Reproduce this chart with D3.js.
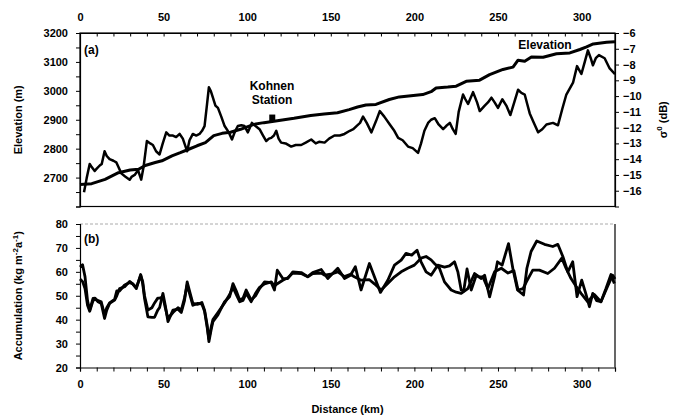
<!DOCTYPE html>
<html>
<head>
<meta charset="utf-8">
<script src="https://cdn.jsdelivr.net/npm/d3@7"></script>
<style>
  body { margin: 0; background: #fff; }
  svg text { font-family: "Liberation Sans", Arial, sans-serif; font-weight: bold; fill: #000; }
</style>
</head>
<body>
<div id="chart"></div>
<script>
// Elevation profile (km, m)
var elevation = [
  [0,2676],[7,2679],[15,2694],[23,2717],[30,2726],[35,2729],[39,2742],[45,2752],[49,2758],[55,2775],
  [60,2786],[65,2798],[70,2810],[75,2821],[80,2845],[85,2853],[90,2857],[96,2867],[104,2884],[110,2890],
  [115,2894],[122,2900],[128,2905],[138,2915],[146,2920],[154,2924],[161,2935],[166,2944],[171,2951],[177,2953],
  [185,2970],[191,2979],[198,2983],[205,2987],[210,2997],[213,3010],[220,3013],[225,3016],[231,3033],[239,3037],
  [245,3056],[253,3074],[259,3082],[262,3106],[266,3102],[270,3117],[277,3116],[285,3128],[293,3131],[299,3143],
  [303,3152],[307,3162],[315,3168],[320,3170]
];

// Backscatter sigma0 (km, dB)
var sigma0 = [
  [2.4,-16.1],[4,-15.2],[5.8,-14.3],[7,-14.5],[8.8,-14.75],[10,-14.6],[11.8,-14.4],[13,-14.3],[14.7,-13.5],[16,-13.8],
  [17.7,-14.0],[20,-14.1],[21.7,-14.2],[23,-14.5],[24.7,-14.9],[27,-15.1],[29.7,-15.3],[31,-15.1],[32.7,-15.0],[34.7,-14.7],
  [36.6,-15.3],[38,-14.5],[40,-12.85],[42,-13.0],[43.6,-13.1],[45.5,-13.5],[47.6,-13.7],[49.5,-13.0],[51.6,-12.3],[53.5,-12.5],
  [55.6,-12.5],[57.5,-12.6],[59.6,-12.4],[61.5,-12.7],[64.1,-13.5],[65.5,-12.8],[67.5,-12.4],[69.5,-12.5],[71.5,-12.4],[73,-12.2],
  [74.5,-11.9],[76,-10.5],[77.1,-9.44],[78.3,-9.7],[79.5,-10.1],[81,-10.6],[82.5,-10.75],[84.5,-11.3],[86.5,-11.9],[89,-12.3],
  [90.9,-12.75],[92.5,-12.3],[94.4,-11.9],[96.5,-11.85],[98.4,-11.9],[100.4,-12.3],[102.8,-11.7],[105,-11.9],[107.4,-12.1],[109.5,-12.5],
  [111.4,-12.85],[113,-12.7],[114.4,-12.65],[116,-12.5],[117.4,-12.2],[118.8,-12.7],[120.3,-12.95],[123,-13.0],[126.3,-13.2],[129,-13.1],
  [132.3,-13.1],[135,-12.95],[138.3,-12.75],[141,-13.0],[143,-12.9],[146.3,-12.95],[149,-12.7],[152.2,-12.5],[155.4,-12.5],[158.2,-12.4],
  [161.4,-12.2],[163.5,-12.1],[165.4,-11.9],[167.5,-11.7],[169.3,-11.3],[171.5,-11.7],[174.3,-12.3],[177,-11.6],[179.3,-10.95],[182,-11.3],
  [185.3,-11.8],[188,-12.2],[190.3,-12.65],[193,-12.8],[196.2,-13.2],[199,-13.3],[202.2,-13.6],[204,-13.0],[206,-12.2],[208.2,-11.7],
  [210,-11.5],[212.2,-11.4],[214.5,-11.8],[217.2,-12.1],[219,-11.9],[221.2,-11.7],[223,-12.1],[224.7,-12.4],[226.5,-11.0],[229.1,-9.9],
  [230.5,-10.2],[232.1,-10.5],[235.1,-9.75],[237.5,-10.4],[239.1,-10.95],[242.1,-10.6],[244,-10.4],[246.1,-10.1],[248,-10.4],[250,-10.75],
  [252.6,-10.2],[255,-10.6],[257.4,-11.2],[260,-10.3],[262,-9.6],[264,-9.8],[266,-9.9],[267.5,-10.5],[269,-11.1],[271.5,-11.7],
  [274,-12.3],[276.5,-12.1],[279,-11.8],[282.9,-11.7],[285.9,-11.85],[288.5,-10.8],[290.9,-9.9],[294.9,-9.15],[297.3,-8.1],[299.9,-8.6],
  [302,-7.8],[303.8,-7.1],[305.5,-7.6],[306.8,-8.05],[308.5,-7.6],[310.4,-7.4],[313.8,-7.6],[316.8,-8.25],[320,-8.6]
];

// Accumulation, first profile (km, kg m-2 a-1)
var accA = [
  [0,62],[1.5,63],[3,58],[4.5,48],[5.8,44],[7.8,48.9],[9,49],[10.8,47.5],[12.7,46.8],[14.7,40.5],
  [16,44],[17.7,46.8],[20.7,48.2],[22,50],[23.7,53],[26.7,53.75],[29.7,56],[31.5,55],[33.7,53],[36.3,58.9],
  [37.5,55],[38.6,48.9],[40.6,41.2],[43,41],[44.6,41],[46.5,44],[47.6,45],[49.6,51],[51,46],[52.6,39.2],
  [55.6,44],[58.6,44.4],[60.6,43],[62.5,48],[64.1,55.8],[65.5,52],[67.5,46.8],[70.5,46.4],[72.9,47.2],[74.5,44],
  [76,38],[77.1,30.8],[78.5,36],[79.5,39.2],[82.5,42],[86.5,47.5],[89.5,49.6],[91.5,55.1],[93.5,52],[95.5,48.2],
  [97.5,49],[99.4,52.4],[102.4,48.2],[105,50],[107.4,53],[110.4,55.8],[114.4,55.5],[116.3,52.4],[118,60.7],[121.3,57.2],
  [124.3,57.2],[127.3,60],[132.3,59.7],[136.2,58],[139.2,59.7],[144.3,61],[148.2,57.2],[154.2,61.5],[158.2,57.2],[161.8,58.6],
  [164.7,62.1],[168.1,52.4],[173.1,63.5],[176.1,57.9],[179.7,51.4],[184.1,56.5],[188.1,62.8],[192.1,64.9],[195,67.7],[198.4,67],
  [201.6,69],[204,64.2],[207,60],[210,58.6],[214,62.8],[218,62],[221,62.5],[224,64.2],[226,60],[228,52.4],
  [229.5,52],[231.5,61.2],[234,52.4],[237,58.6],[240,57.2],[242,58.6],[245,49.5],[248,58],[249.7,64.2],[252.5,62.8],
  [256.3,71.8],[259,61],[261.7,52.4],[265.3,50.3],[267.3,61.5],[269.8,68.5],[273.2,72.9],[277.8,71.5],[282.8,70.6],[285.8,71.5],
  [288.8,66.4],[291.8,60],[294.7,64.2],[297.3,49.6],[300.1,56.5],[302.5,51],[304.7,45.4],[306.7,51],[309,48],[311.6,47.5],
  [314.6,53],[317.6,58.9],[319.6,55.1]
];

// Accumulation, second profile (km, kg m-2 a-1)
var accB = [
  [0,57],[1.5,56],[3,53],[4.5,46],[5.8,43.5],[7.8,48],[9,48.5],[10.8,48],[12.7,47.5],[14.7,42],
  [16,45],[17.7,47],[20.7,48.5],[22,52],[23.7,52],[26.7,54.5],[29.7,55.5],[31.5,55],[33.7,53.5],[36.3,58.5],
  [37.5,56],[38.6,50],[40.6,44],[43,45],[44.6,47],[46.5,49],[47.6,49],[49.6,49.5],[51,45],[52.6,40.5],
  [55.6,43],[58.6,45],[60.6,44],[62.5,49],[64.1,54.5],[65.5,51],[67.5,46],[70.5,46.8],[72.9,46.5],[74.5,43.5],
  [76,37],[77.1,32],[78.5,37],[79.5,40],[82.5,43],[86.5,47],[89.5,50.5],[91.5,53.5],[93.5,50.5],[95.5,47.5],
  [97.5,48],[99.4,51],[102.4,47.5],[105,51],[107.4,53.5],[110.4,55],[114.4,55.8],[116.3,54],[118,55],[121.3,56.5],
  [124.3,57.5],[127.3,59.5],[132.3,59.3],[136.2,57.9],[139.2,59.3],[144.3,59.5],[146.2,58.6],[150,59],[154.2,60],[158.2,58],
  [161.8,59],[164.1,57.9],[168.1,56.5],[173.1,56.7],[176.1,55],[180.1,52.4],[184.1,55.1],[188.1,57.9],[192.1,60],[196,61.5],
  [200,62.8],[204,65.7],[207,66.4],[210,65],[212,63.5],[215,61.5],[218,55.8],[222,52.4],[225,51.5],[228,51],
  [232,53],[236,59.3],[238.5,58],[241,57.9],[244,53],[248,60],[252,61.5],[256,59.5],[259.5,60.5],[262,52.4],
  [265,53],[267,55.8],[270.8,60.7],[274.8,60.7],[279.8,59.3],[283.8,61.5],[288.2,65.7],[290.7,61.5],[293.7,57.2],[296.7,54],
  [299.7,51],[303.6,47.5],[307.6,50.5],[311.6,47.5],[315.6,54],[318.6,58.6],[320,57]
];

// Kohnen Station marker (km, elevation bottom, elevation top)
var kohnen = { km: 115, lo: 2893, hi: 2918 };

var distTicks = d3.range(0, 321, 10);
var elevTicks = d3.range(2600, 3201, 50);
var sigmaTicks = d3.range(-16, -5, 1);
var accTicks = d3.range(20, 81, 5);

var width = 682, height = 416;
var left = 80, right = 615;

var svg = d3.select("#chart").append("svg")
  .attr("width", width)
  .attr("height", height);

var x = d3.scaleLinear().domain([0, 320]).range([left, right]);

/* ---------- panel (a) ---------- */
var aTop = 33, aBottom = 206.5;
var yElev = d3.scaleLinear().domain([2600, 3200]).range([aBottom, aTop]);
var ySig = d3.scaleLinear().domain([-17, -6]).range([aBottom, aTop]);

// frame
svg.append("rect")
  .attr("x", left).attr("y", aTop)
  .attr("width", right - left).attr("height", aBottom - aTop)
  .attr("fill", "none").attr("stroke", "#000").attr("stroke-width", 1.2);

// top distance axis, ticks pointing in
svg.append("g")
  .attr("transform", "translate(0," + aTop + ")")
  .call(d3.axisTop(x).tickValues(distTicks).tickSizeInner(-3.5).tickSizeOuter(0).tickPadding(12)
    .tickFormat(d => d % 50 === 0 ? d : ""));

// left elevation axis
svg.append("g")
  .attr("transform", "translate(" + left + ",0)")
  .call(d3.axisLeft(yElev).tickValues(elevTicks).tickSizeOuter(0).tickSize(4).tickPadding(8)
    .tickFormat(d => (d % 100 === 0 && d > 2600) ? d : ""));

// right sigma axis
svg.append("g")
  .attr("transform", "translate(" + right + ",0)")
  .call(d3.axisRight(ySig).tickValues(sigmaTicks).tickSizeOuter(0).tickSize(4).tickPadding(4));

var lineElev = d3.line().x(d => x(d[0])).y(d => yElev(d[1]));
var lineSig = d3.line().x(d => x(d[0])).y(d => ySig(d[1]));

svg.append("path").datum(sigma0)
  .attr("d", lineSig)
  .attr("fill", "none").attr("stroke", "#000").attr("stroke-width", 2.5)
  .attr("stroke-linejoin", "round");

svg.append("path").datum(elevation)
  .attr("d", lineElev)
  .attr("fill", "none").attr("stroke", "#000").attr("stroke-width", 3)
  .attr("stroke-linejoin", "round");

// Kohnen marker
svg.append("rect")
  .attr("x", x(kohnen.km) - 3)
  .attr("y", yElev(kohnen.hi))
  .attr("width", 6)
  .attr("height", yElev(kohnen.lo) - yElev(kohnen.hi))
  .attr("fill", "#000");

svg.append("text").attr("x", 84).attr("y", 54).style("font-size", "12px").text("(a)");
svg.append("text").attr("x", 272).attr("y", 90).attr("text-anchor", "middle").style("font-size", "12px").text("Kohnen");
svg.append("text").attr("x", 272).attr("y", 104).attr("text-anchor", "middle").style("font-size", "12px").text("Station");
svg.append("text").attr("x", 545).attr("y", 49).attr("text-anchor", "middle").style("font-size", "12px").text("Elevation");

// axis titles
svg.append("text")
  .attr("transform", "translate(22," + ((aTop + aBottom) / 2) + ") rotate(-90)")
  .attr("text-anchor", "middle").style("font-size", "11px")
  .text("Elevation (m)");

var sigTitle = svg.append("text")
  .attr("transform", "translate(667," + ((aTop + aBottom) / 2) + ") rotate(-90)")
  .attr("text-anchor", "middle").style("font-size", "11px");
sigTitle.append("tspan").text("σ");
sigTitle.append("tspan").attr("dy", -5).style("font-size", "8px").text("0");
sigTitle.append("tspan").attr("dy", 5).text(" (dB)");

/* ---------- panel (b) ---------- */
var bTop = 224, bBottom = 367.5;
var yAcc = d3.scaleLinear().domain([20, 80]).range([bBottom, bTop]);

// faint top border
svg.append("line")
  .attr("x1", left).attr("x2", right).attr("y1", bTop).attr("y2", bTop)
  .attr("stroke", "#aaa").attr("stroke-width", 1).attr("stroke-dasharray", "3,2");
svg.append("line")
  .attr("x1", right).attr("x2", right).attr("y1", bTop).attr("y2", bBottom)
  .attr("stroke", "#000").attr("stroke-width", 1.2);

svg.append("g")
  .attr("transform", "translate(0," + bBottom + ")")
  .call(d3.axisBottom(x).tickValues(distTicks).tickSizeOuter(0).tickSize(4).tickPadding(9)
    .tickFormat(d => d % 50 === 0 ? d : ""));

svg.append("g")
  .attr("transform", "translate(" + left + ",0)")
  .call(d3.axisLeft(yAcc).tickValues(accTicks).tickSizeOuter(0).tickSize(4).tickPadding(8)
    .tickFormat(d => d % 10 === 0 ? d : ""));

var lineAcc = d3.line().x(d => x(d[0])).y(d => yAcc(d[1]));

[accB, accA].forEach(function (s) {
  svg.append("path").datum(s)
    .attr("d", lineAcc)
    .attr("fill", "none").attr("stroke", "#000").attr("stroke-width", 2.8)
    .attr("stroke-linejoin", "round");
});

svg.append("text").attr("x", 84).attr("y", 243).style("font-size", "12px").text("(b)");

var accTitle = svg.append("text")
  .attr("transform", "translate(22," + ((bTop + bBottom) / 2) + ") rotate(-90)")
  .attr("text-anchor", "middle").style("font-size", "11px");
accTitle.append("tspan").text("Accumulation (kg m");
accTitle.append("tspan").attr("dy", -4).style("font-size", "8px").text("-2");
accTitle.append("tspan").attr("dy", 4).text("a");
accTitle.append("tspan").attr("dy", -4).style("font-size", "8px").text("-1");
accTitle.append("tspan").attr("dy", 4).text(")");

svg.append("text")
  .attr("x", (left + right) / 2).attr("y", 413)
  .attr("text-anchor", "middle").style("font-size", "11px")
  .text("Distance (km)");

// axis styling
svg.selectAll(".tick text").style("font-size", "11px").style("font-family", "'Liberation Sans', Arial, sans-serif").style("font-weight", "bold");
svg.selectAll(".domain").attr("stroke", "#000").attr("stroke-width", 1.2);
svg.selectAll(".tick line").attr("stroke", "#000").attr("stroke-width", 1);
</script>
</body>
</html>
